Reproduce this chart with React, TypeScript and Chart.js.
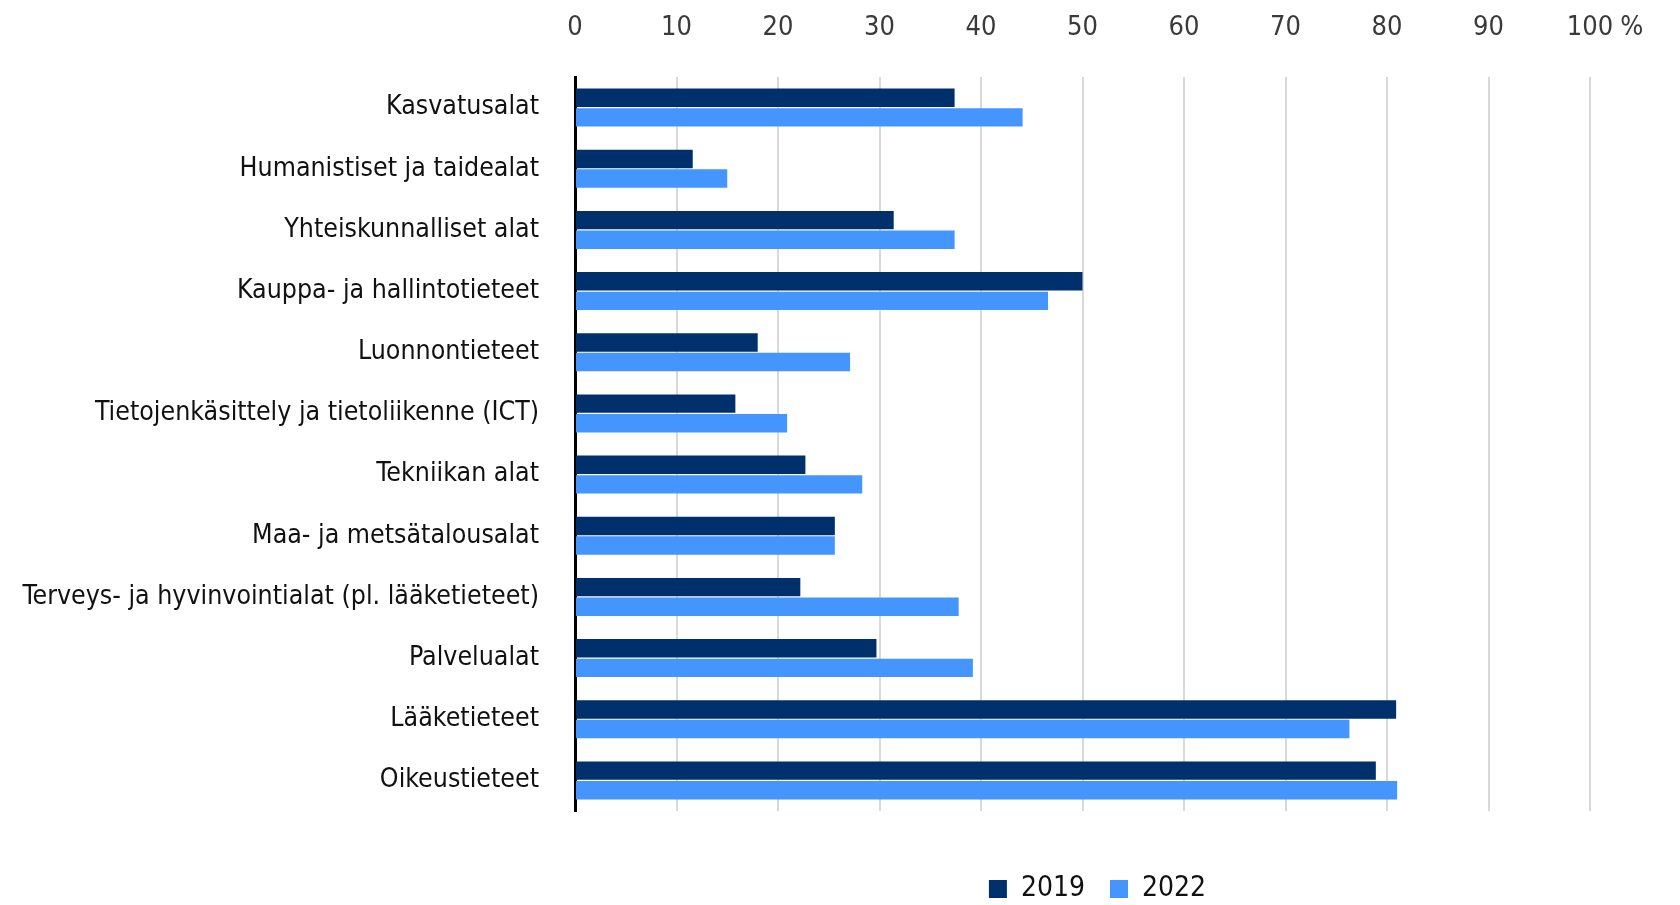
import React, { useEffect, useRef } from "react";
import { Chart, registerables } from "chart.js";

Chart.register(...registerables);

const categories = [
  "Kasvatusalat",
  "Humanistiset ja taidealat",
  "Yhteiskunnalliset alat",
  "Kauppa- ja hallintotieteet",
  "Luonnontieteet",
  "Tietojenkäsittely ja tietoliikenne (ICT)",
  "Tekniikan alat",
  "Maa- ja metsätalousalat",
  "Terveys- ja hyvinvointialat (pl. lääketieteet)",
  "Palvelualat",
  "Lääketieteet",
  "Oikeustieteet",
];

const values2019 = [37.4, 11.6, 31.4, 50.0, 18.0, 15.8, 22.7, 25.6, 22.2, 29.7, 80.9, 78.9];
const values2022 = [44.1, 15.0, 37.4, 46.6, 27.1, 20.9, 28.3, 25.6, 37.8, 39.2, 76.3, 81.0];

const seriesLabels = ["2019", "2022"];
const tickMax = 100;
const tickStep = 10;
const percentSign = "%";

const FONT = "'DejaVu Sans Condensed', 'DejaVu Sans', sans-serif";
const DARK = "#00306b";
const LIGHT = "#4595ff";
const TICK_SIZE = 27;
const TICK_PAD = 33;
const LEGEND_PAD = 25;
const LEGEND_SIZE = 28;

const percentPlugin = {
  id: "percentSign",
  afterDraw(chart: any) {
    const x = chart.scales.x;
    const ctx = chart.ctx;
    ctx.save();
    ctx.font = `${TICK_SIZE}px ${FONT}`;
    const w = ctx.measureText(String(tickMax)).width;
    const px = x.getPixelForValue(tickMax) + w / 2 + 7;
    ctx.fillStyle = "#3a3a3a";
    ctx.textAlign = "left";
    ctx.textBaseline = "middle";
    ctx.fillText(percentSign, px, x.bottom - TICK_PAD - (TICK_SIZE * 1.2) / 2);
    ctx.restore();
  },
};

const legendShiftPlugin = {
  id: "legendShift",
  afterLayout(chart: any) {
    const lg = chart.legend;
    if (!lg) return;
    const dy = 39;
    const dx = 15;
    lg.top += dy;
    lg.bottom += dy;
    lg.left += dx;
    lg.right += dx;
  },
};

export default function App() {
  const ref = useRef<HTMLCanvasElement | null>(null);

  useEffect(() => {
    document.body.style.margin = "0";
    const canvas = ref.current;
    if (!canvas) return;
    const chart = new Chart(canvas, {
      type: "bar",
      data: {
        labels: categories,
        datasets: [
          {
            label: seriesLabels[0],
            data: values2019,
            backgroundColor: DARK,
            categoryPercentage: 0.64,
            barPercentage: 0.94,
          },
          {
            label: seriesLabels[1],
            data: values2022,
            backgroundColor: LIGHT,
            categoryPercentage: 0.64,
            barPercentage: 0.94,
          },
        ],
      },
      options: {
        indexAxis: "y",
        animation: false,
        responsive: false,
        maintainAspectRatio: false,
        layout: { padding: { left: 0, right: 90, top: 0, bottom: 31 } },
        scales: {
          x: {
            position: "top",
            min: 0,
            max: tickMax,
            ticks: {
              stepSize: tickStep,
              color: "#3a3a3a",
              font: { family: FONT, size: TICK_SIZE },
              padding: TICK_PAD,
            },
            grid: {
              color: (c: any) => (c.tick && c.tick.value === 0 ? "rgba(0,0,0,0)" : "#d9d9d9"),
              lineWidth: 2,
              drawTicks: false,
            },
            border: { display: false },
            afterFit: (s: any) => {
              s.height = 77;
            },
          },
          y: {
            ticks: {
              color: "#111111",
              font: { family: FONT, size: 26.5 },
              padding: 36,
            },
            grid: { display: false, drawTicks: false },
            border: { display: true, color: "#000000", width: 3 },
            afterFit: (s: any) => {
              s.width = 575;
            },
          },
        },
        plugins: {
          legend: {
            position: "bottom",
            fullSize: false,
            labels: {
              color: "#111111",
              font: { family: FONT, size: LEGEND_SIZE, lineHeight: 1 },
              boxWidth: 18,
              boxHeight: 18,
              padding: LEGEND_PAD,
            },
          },
          tooltip: { enabled: false },
        },
      },
      plugins: [percentPlugin, legendShiftPlugin],
    });
    return () => chart.destroy();
  }, []);

  return (
    <div style={{ width: 1680, height: 905, background: "#ffffff" }}>
      <canvas ref={ref} width={1680} height={905} style={{ display: "block" }} />
    </div>
  );
}
